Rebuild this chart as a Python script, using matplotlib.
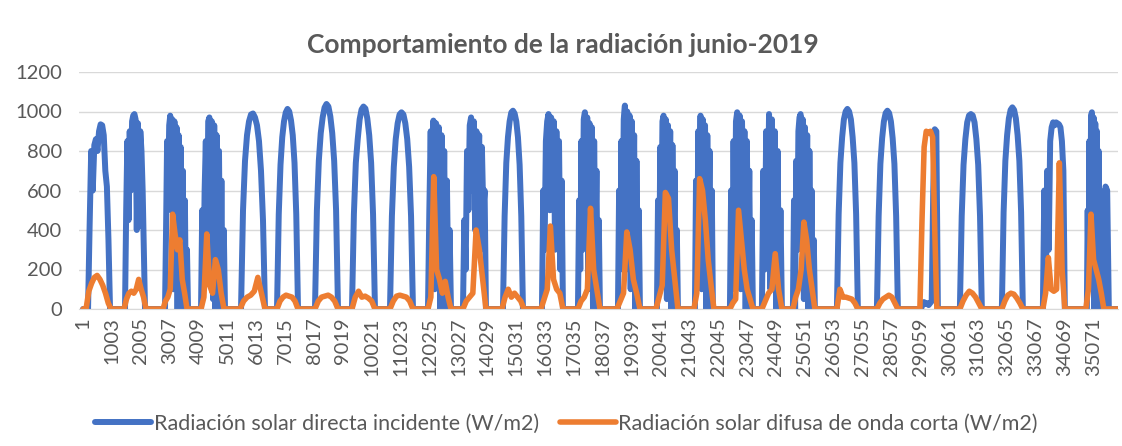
import numpy as np
import matplotlib.pyplot as plt

plt.rcParams['font.family'] = ['Lato', 'DejaVu Sans']

# numero total de registros (eje de categorias de Excel)
n_registros = 35920
tick_paso = 1002

# Radiacion solar directa incidente (W/m2): inicio / fin de cada dia y valores
dir_ini = [174, 1457, 2845, 4095, 5483, 6732, 8050, 9334, 10653, 11972, 13186, 14574, 15927, 17177,
           18565, 19918, 21236, 22451, 23561, 24637, 26164, 27552, 29079, 30432, 31889, 33312, 34839, 35429]
dir_fin = [937, 2151, 3644, 4927, 6315, 7461, 8849, 10132, 11451, 12770, 13984, 15268, 16656, 17940,
           19328, 20647, 21861, 23249, 24255, 25400, 26892, 28281, 29669, 31195, 32618, 34075, 35394, 35602]
directa = [
    [0, 420, 800, 600, 830, 860, 800, 900, 935, 930, 880, 700, 620, 350, 0],
    [0, 500, 850, 450, 900, 600, 950, 980, 987, 960, 400, 940, 420, 900, 800, 600, 300, 0],
    [0, 400, 850, 600, 930, 979, 500, 960, 100, 950, 300, 920, 0, 880, 150, 820, 0, 700, 50, 550, 0, 300, 0],
    [0, 500, 100, 600, 850, 300, 950, 970, 200, 950, 50, 930, 0, 880, 200, 800, 0, 650, 0, 400, 0],
    [0, 500, 750, 880, 950, 985, 990, 970, 930, 850, 700, 450, 0],
    [0, 480, 730, 870, 950, 995, 1013, 1000, 955, 880, 740, 480, 0],
    [0, 500, 750, 890, 970, 1020, 1038, 1025, 975, 890, 750, 500, 0],
    [0, 480, 740, 860, 960, 1010, 1025, 1015, 965, 880, 740, 480, 0],
    [0, 470, 720, 860, 940, 985, 996, 985, 940, 860, 720, 470, 0],
    [0, 500, 900, 300, 954, 100, 940, 400, 920, 0, 880, 200, 800, 0, 650, 100, 400, 0],
    [0, 450, 200, 800, 500, 930, 970, 600, 950, 400, 900, 700, 880, 300, 820, 500, 600, 0],
    [0, 470, 740, 870, 950, 995, 1004, 990, 950, 870, 730, 470, 0],
    [0, 600, 300, 850, 950, 987, 500, 970, 700, 950, 300, 900, 650, 850, 200, 650, 0],
    [0, 550, 200, 850, 300, 960, 996, 400, 970, 100, 940, 500, 920, 0, 850, 300, 700, 0, 450, 0],
    [0, 600, 200, 850, 300, 960, 1030, 200, 1000, 600, 980, 100, 950, 400, 880, 0, 750, 200, 500, 0],
    [0, 550, 100, 820, 400, 950, 979, 300, 960, 50, 930, 500, 900, 0, 830, 300, 700, 0, 400, 0],
    [0, 650, 200, 900, 500, 979, 100, 960, 500, 930, 0, 880, 300, 800, 0, 600, 0],
    [0, 600, 100, 850, 200, 950, 996, 400, 980, 100, 950, 500, 900, 0, 850, 200, 700, 0, 450, 0],
    [0, 700, 200, 900, 400, 987, 100, 960, 300, 900, 0, 800, 0, 500, 0],
    [0, 550, 0, 750, 300, 900, 970, 987, 300, 960, 50, 920, 400, 880, 0, 800, 200, 600, 0, 350, 0],
    [0, 480, 740, 870, 960, 1000, 1013, 1000, 960, 870, 740, 480, 0],
    [0, 470, 735, 865, 950, 992, 1004, 992, 950, 865, 735, 470, 0],
    [0, 20, 35, 25, 30, 20, 30, 40, 600, 910, 900, 0],
    [0, 470, 730, 860, 945, 980, 987, 980, 945, 860, 730, 470, 0],
    [0, 490, 750, 880, 965, 1008, 1021, 1008, 965, 880, 750, 490, 0],
    [0, 600, 100, 700, 300, 850, 920, 945, 930, 945, 940, 935, 920, 850, 700, 0],
    [0, 500, 100, 850, 300, 980, 996, 200, 970, 0, 940, 300, 900, 0, 800, 100, 600, 0, 300, 0],
    [0, 620, 600, 0],
]

# Radiacion solar difusa de onda corta (W/m2)
dif_ini = [104, 1423, 2776, 4095, 5448, 6732, 8050, 9334, 10653, 11972, 13186, 14539, 15893, 17177,
           18530, 19883, 21202, 22451, 23561, 24637, 26164, 27552, 29044, 30432, 31889, 33312, 34804]
dif_fin = [972, 2186, 3609, 4893, 6315, 7461, 8849, 10132, 11451, 12770, 13984, 15303, 16656, 17940,
           19328, 20647, 21896, 23249, 24255, 25400, 26892, 28281, 29634, 31195, 32618, 34075, 35429]
difusa = [
    [0, 90, 130, 160, 170, 150, 120, 80, 30, 0],
    [0, 50, 80, 90, 80, 100, 150, 100, 60, 0],
    [0, 40, 60, 100, 480, 380, 300, 350, 150, 80, 0],
    [0, 60, 380, 120, 80, 250, 200, 80, 0],
    [0, 40, 60, 70, 90, 160, 80, 0],
    [0, 40, 60, 70, 65, 60, 40, 0],
    [0, 40, 60, 65, 70, 60, 40, 0],
    [0, 60, 90, 60, 65, 55, 40, 0],
    [0, 40, 65, 70, 65, 60, 40, 0],
    [0, 60, 670, 200, 150, 80, 140, 60, 0],
    [0, 40, 60, 80, 400, 300, 150, 0],
    [0, 60, 100, 60, 80, 60, 40, 0],
    [0, 50, 100, 420, 150, 100, 80, 0],
    [0, 40, 60, 100, 510, 200, 100, 0],
    [0, 40, 80, 390, 300, 150, 80, 0],
    [0, 60, 120, 590, 560, 300, 150, 0],
    [0, 80, 660, 600, 450, 250, 120, 0],
    [0, 30, 50, 500, 350, 200, 100, 50, 0],
    [0, 40, 80, 100, 280, 100, 0],
    [0, 60, 100, 200, 440, 350, 200, 100, 0],
    [0, 100, 60, 60, 55, 50, 30, 0],
    [0, 30, 50, 60, 70, 60, 30, 0],
    [0, 450, 820, 900, 890, 900, 870, 400, 0],
    [0, 40, 70, 90, 80, 60, 30, 0],
    [0, 40, 70, 80, 75, 55, 30, 0],
    [0, 80, 260, 100, 90, 100, 740, 200, 0],
    [0, 100, 480, 250, 200, 150, 80, 0],
]


def serie(ini, fin, dias):
    xs = [np.array([1])]
    ys = [np.array([0])]
    for a, b, v in zip(ini, fin, dias):
        xs.append(np.linspace(a, b, len(v)))
        ys.append(np.array(v))
    xs.append(np.array([n_registros]))
    ys.append(np.array([0]))
    return np.concatenate(xs), np.concatenate(ys)


gris = '#595959'
azul = '#4472C4'
naranja = '#ED7D31'

fig = plt.figure(figsize=(11.22, 4.46), dpi=100)
ax = fig.add_axes([79 / 1122, 1 - 309 / 446, (1118 - 79) / 1122, (309 - 72) / 446])

x1, y1 = serie(dir_ini, dir_fin, directa)
x2, y2 = serie(dif_ini, dif_fin, difusa)
ax.plot(x1, y1, color=azul, lw=4.3, solid_joinstyle='round', solid_capstyle='round',
        label='Radiación solar directa incidente (W/m2)')
ax.plot(x2, y2, color=naranja, lw=4.0, solid_joinstyle='round', solid_capstyle='round',
        label='Radiación solar difusa de onda corta (W/m2)')

ax.set_xlim(-140, n_registros)
ax.set_ylim(0, 1200)
ax.set_yticks(np.arange(0, 1201, 200))
ticks = np.arange(1, n_registros, tick_paso)
ax.set_xticks(ticks)
ax.set_xticklabels([str(t) for t in ticks], rotation=90)
ax.tick_params(axis='both', length=0, labelsize=14.5, colors=gris)
ax.tick_params(axis='x', pad=6)
ax.tick_params(axis='y', pad=12)
ax.grid(axis='y', color='#D9D9D9', lw=1)
ax.set_axisbelow(True)
for s in ['top', 'right', 'left']:
    ax.spines[s].set_visible(False)
ax.spines['bottom'].set_color('#D9D9D9')

fig.text(0.502, 1 - 45 / 446, 'Comportamiento de la radiación junio-2019', ha='center', va='center',
         fontsize=19, fontweight='bold', color=gris)

fig.legend(loc='center', bbox_to_anchor=(0.505, 1 - 424 / 446), ncol=2, frameon=False,
           fontsize=15.5, labelcolor=gris, handlelength=2.6, handletextpad=0.1, columnspacing=1.0)

fig.savefig('out.png', dpi=100)
